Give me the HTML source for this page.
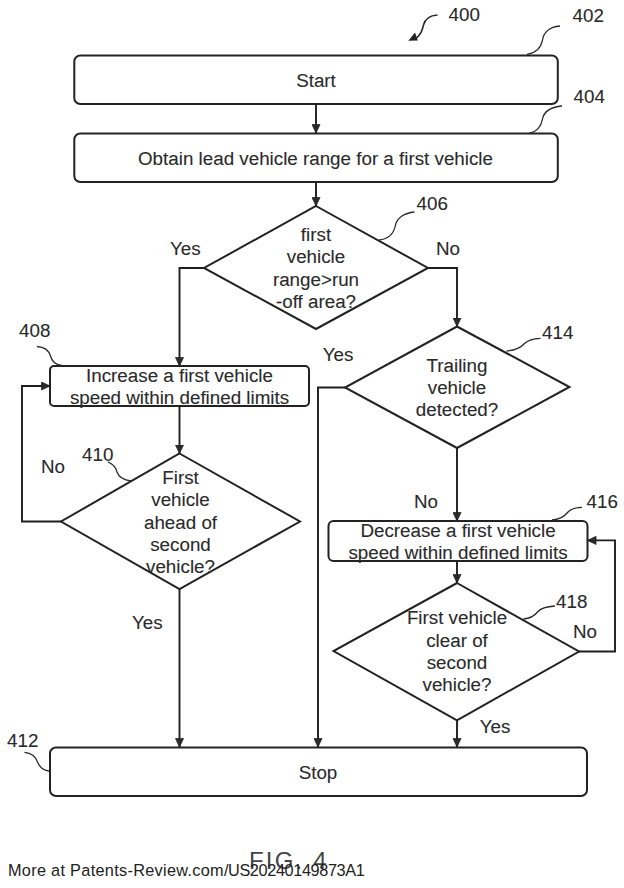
<!DOCTYPE html>
<html><head><meta charset="utf-8">
<style>
html,body{margin:0;padding:0;background:#fff;width:624px;height:888px;overflow:hidden}
svg{display:block;position:absolute;left:0;top:0}
text{font-family:"Liberation Sans",sans-serif;font-size:18.8px;fill:#2a2a2a;stroke:#2a2a2a;stroke-width:0.1px}
.t{text-anchor:middle}
.b{fill:none;stroke:#222;stroke-width:2}
.l{fill:none;stroke:#1e1e1e;stroke-width:1.9}
.ld{fill:none;stroke:#2a2a2a;stroke-width:1.3}
</style></head>
<body>
<svg width="624" height="888" viewBox="0 0 624 888">
<defs>
<marker id="a" viewBox="0 0 10 10" refX="10" refY="5" markerWidth="9" markerHeight="9" preserveAspectRatio="none" markerUnits="userSpaceOnUse" orient="auto">
<path d="M0.5,0.5 L10,5 L0.5,9.5 Z" fill="#2a2a2a" stroke="#1e1e1e" stroke-width="0.8"/>
</marker>
</defs>

<!-- Start box -->
<rect class="b" x="74.3" y="55.5" width="483.5" height="48.5" rx="6"/>
<text class="t" x="316" y="87">Start</text>
<!-- Obtain box -->
<rect class="b" x="74.3" y="133.5" width="483.5" height="48.5" rx="6"/>
<text class="t" x="315.5" y="165">Obtain lead vehicle range for a first vehicle</text>

<line class="l" x1="316" y1="104" x2="316" y2="133" marker-end="url(#a)"/>
<line class="l" x1="316" y1="182" x2="316" y2="206" marker-end="url(#a)"/>

<!-- Diamond 406 -->
<polygon class="b" points="316,206 428,268 316,329 204,268"/>
<text class="t" x="316" y="241">first</text>
<text class="t" x="316" y="263">vehicle</text>
<text class="t" x="316" y="286">range&gt;run</text>
<text class="t" x="316" y="308">-off area?</text>

<polyline class="l" points="204,268 179.5,268 179.5,366" marker-end="url(#a)"/>
<text x="170" y="255">Yes</text>
<polyline class="l" points="428,268 457,268 457,326.5" marker-end="url(#a)"/>
<text x="436" y="255">No</text>

<!-- Box 408 -->
<rect class="b" x="50" y="366" width="259" height="40" rx="4"/>
<text class="t" x="179.5" y="381.8">Increase a first vehicle</text>
<text class="t" x="179.5" y="403.8">speed within defined limits</text>
<text x="19" y="337">408</text>
<path class="ld" d="M37,346.5 C45,347 49,351 50.5,356 C52,362 56,365 62,365.5"/>

<line class="l" x1="179.5" y1="406" x2="179.5" y2="453.5" marker-end="url(#a)"/>

<!-- Diamond 410 -->
<polygon class="b" points="179.5,453.5 300,521.5 179.5,589 61,521.5"/>
<text class="t" x="180.5" y="483.7">First</text>
<text class="t" x="180.5" y="505.8">vehicle</text>
<text class="t" x="180.5" y="528.5">ahead of</text>
<text class="t" x="180.5" y="551.2">second</text>
<text class="t" x="180.5" y="573">vehicle?</text>
<text x="82" y="461.2">410</text>
<path class="ld" d="M108,462 C113,464 116,468 117,472 C119,478 124,480 131,481"/>

<polyline class="l" points="61,521.5 22,521.5 22,386 50,386" marker-end="url(#a)"/>
<text x="41" y="472.5">No</text>
<line class="l" x1="179.5" y1="589" x2="179.5" y2="747" marker-end="url(#a)"/>
<text x="132" y="628.8">Yes</text>

<!-- Diamond 414 -->
<polygon class="b" points="457,326.5 569.5,387 457,448 345,387.5"/>
<text class="t" x="457" y="371.7">Trailing</text>
<text class="t" x="457" y="393.7">vehicle</text>
<text class="t" x="457" y="415.8">detected?</text>
<text x="542" y="338.5">414</text>
<path class="ld" d="M540.5,338.3 C533,338.5 528,340 524.5,343.5 C520,348.5 515,350.5 506.5,351"/>

<polyline class="l" points="345,387.5 318,387.5 318,747" marker-end="url(#a)"/>
<text x="322.8" y="360.8">Yes</text>
<line class="l" x1="457" y1="448" x2="457" y2="521" marker-end="url(#a)"/>
<text x="414" y="508">No</text>

<!-- Box 416 -->
<rect class="b" x="328.5" y="521" width="259" height="40" rx="5"/>
<text class="t" x="458" y="536.5">Decrease a first vehicle</text>
<text class="t" x="458" y="559">speed within defined limits</text>
<text x="586.5" y="508">416</text>
<path class="ld" d="M582,507.3 C575,507.5 570,509.5 567.5,512.5 C564,517 559,519.5 552,520"/>

<line class="l" x1="457" y1="561" x2="457" y2="583" marker-end="url(#a)"/>

<!-- Diamond 418 -->
<polygon class="b" points="457,583 579,651.5 457,720.4 333.5,651"/>
<text class="t" x="457" y="624">First vehicle</text>
<text class="t" x="457" y="647">clear of</text>
<text class="t" x="457" y="669.3">second</text>
<text class="t" x="457" y="690.6">vehicle?</text>
<text x="556" y="608.4">418</text>
<path class="ld" d="M555,606 C546,606.5 540,609 537.5,612 C534,616.5 530,618.5 523.5,619"/>

<polyline class="l" points="579,651.5 615,651.5 615,540.4 587.5,540.4" marker-end="url(#a)"/>
<text x="573" y="638">No</text>
<line class="l" x1="457" y1="720.4" x2="457" y2="747" marker-end="url(#a)"/>
<text x="479.8" y="733.4">Yes</text>

<!-- Stop box -->
<rect class="b" x="50" y="747.5" width="537" height="48.5" rx="6"/>
<text class="t" x="318" y="778.5">Stop</text>
<text x="7" y="746.6">412</text>
<path class="ld" d="M24.5,752.3 C31,753 35.5,756 37.5,762 C40,768 43,770.5 49,771"/>

<!-- labels -->
<text x="448.5" y="20.5">400</text>
<path class="ld" style="stroke-width:1.6" d="M437.5,15 C430,15.5 425,19 423.5,25 C422,31 421,34 416,38.5"/>
<path d="M408.3,40.8 L415,32.5 L417.8,40.5 Z" fill="#222"/>
<text x="572.5" y="22.3">402</text>
<path class="ld" d="M560,26 C549,27 543.5,33 542.5,40 C541,48 536,53 527,54.5"/>
<text x="573.5" y="103.4">404</text>
<path class="ld" d="M562,106 C552,107 544,111 542.5,119 C541,127 537,132 529,133.5"/>
<text x="416.5" y="209.6">406</text>
<path class="ld" d="M414.5,212 C404,213 397,218 395.5,225 C394,233 389,239 379,240"/>

<text x="249" y="869" style="font-size:24px;fill:#444;stroke:none;letter-spacing:2.2px">FIG. 4</text>
<text x="8" y="876" style="font-size:16.3px;fill:#222;stroke:none;letter-spacing:0.3px">More at Patents-Review.com/</text>
<text x="228" y="876" style="font-size:16.3px;fill:#222;stroke:none;letter-spacing:-0.38px">US20240149873A1</text>
</svg>
</body></html>
